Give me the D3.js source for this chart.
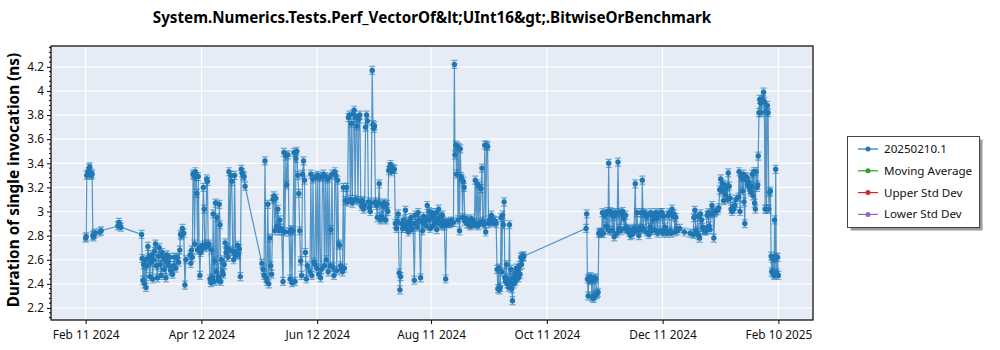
<!DOCTYPE html>
<html><head><meta charset="utf-8">
<script src="https://cdn.jsdelivr.net/npm/d3@7"></script>
<style>body{margin:0;background:#fff;} svg{display:block;} text{font-family:"Noto Sans",sans-serif;}</style>
</head><body><svg id="chart" width="1000" height="350"></svg>
<script>
const chartTitle = "System.Numerics.Tests.Perf_VectorOf&lt;UInt16&gt;.BitwiseOrBenchmark";
const yAxisLabel = "Duration of single invocation (ns)";
const startDate = "2024-02-11";
// day offsets from startDate
const days = [
0,0.3,0.6,1.0,1.4,1.8,2.2,2.6,3.0,3.4,3.8,4.1,4.4,5.0,7.5,8.2,
17.0,17.5,18.0,18.6,29.5,
29.8,30.2,30.6,31.0,31.4,31.8,32.3,32.8,33.3,33.8,34.3,34.8,35.3,35.8,36.3,36.8,37.3,37.8,38.3,38.8,39.3,39.8,40.3,40.8,41.3,41.8,42.3,42.8,43.3,43.8,44.3,44.8,45.3,45.8,46.3,46.8,47.5,48.3,49.0,49.6,
50.0,50.5,51.0,51.7,52.3,52.8,
55.0,55.4,55.8,56.2,56.6,57.0,57.4,57.8,58.2,58.6,59.0,59.4,59.8,60.2,60.6,61.0,61.5,62.0,62.4,62.8,63.3,63.8,64.2,64.6,65.0,
65.5,66.0,66.4,66.8,67.2,67.6,68.0,68.4,68.8,69.2,69.6,70.0,70.4,70.8,71.2,71.6,72.0,72.5,
73,73.5,74,74.5,75,75.5,76,76.5,77,77.5,78,78.5,79,79.5,80,80.5,81,81.5,82,82.5,83,83.5,84,
92.9,93.5,94.0,94.5,95.0,95.5,96.0,96.5,97.0,97.5,98.0,98.7,99.2,99.7,100.2,100.8,101.3,101.8,102.3,102.8,103.3,104.0,104.5,105.0,105.5,106.0,106.6,107.2,107.7,108.2,108.7,109.2,109.8,110.3,110.8,111.3,111.8,112.3,112.8,113.3,113.8,114.3,114.8,115.3,115.8,116.3,116.8,
118.2,118.7,119.2,119.8,120.3,120.8,121.3,121.8,122.3,122.8,123.3,123.8,124.3,124.8,125.3,125.8,126.3,126.8,127.3,127.8,128.3,128.8,129.3,129.8,130.3,130.8,131.3,131.8,132.3,132.8,133.3,133.8,134.3,134.8,135.3,135.8,136.3,136.8,
137.5,138.0,138.5,139.0,139.5,140.0,140.5,141.0,141.5,142.0,142.5,143.0,143.5,144.0,144.5,145.0,145.5,146.0,146.5,147.0,147.5,148.0,148.5,149.0,149.5,150.0,150.5,151.0,151.4,151.8,152.2,
152.7,153.2,153.7,154.2,154.7,155.2,155.7,156.2,156.7,157.2,157.7,158.2,158.7,159.2,159.7,160.2,160.7,161.2,161.7,162.2,162.7,
163.2,163.7,164.2,164.7,165.2,165.6,166.0,166.5,167.0,167.5,168.0,168.5,169.0,169.5,170.0,170.5,171.0,171.5,172.0,172.5,173.2,173.7,174.2,174.7,175.2,175.7,176.5,177.0,177.5,178.0,178.5,179.0,179.5,180.0,180.5,181.0,181.5,182.0,182.5,183.0,183.5,184.0,184.5,185.0,185.5,186.0,186.5,187.0,187.5,188.0,188.5,189.0,189.7,190.2,190.8,191.4,192.0,192.6,193.2,
193.8,194.3,194.6,195.0,195.4,195.8,196.2,196.6,197.0,197.4,197.8,198.2,198.6,199.0,199.4,199.8,200.3,200.8,201.3,201.8,202.3,202.8,203.3,203.8,204.3,204.8,
205.3,205.8,206.3,206.8,207.3,207.8,208.3,208.8,209.3,209.8,210.3,210.8,211.3,211.8,212.3,212.8,213.3,213.8,214.3,214.8,215.3,215.8,
216.3,216.8,217.2,217.6,218.0,218.5,218.9,219.3,219.7,220.1,220.5,220.9,221.3,221.7,222.1,222.5,222.9,223.3,223.7,224.1,224.5,224.9,225.3,225.7,226.1,226.5,226.9,227.3,227.7,228.1,228.5,228.9,229.3,229.7,230.1,230.5,230.9,
263.7,264.0,264.4,264.8,265.2,265.6,266.0,266.4,266.8,267.2,267.6,268.0,268.4,268.8,269.2,269.6,270.0,270.4,270.9,271.4,
271.8,272.3,272.8,273.3,273.8,274.3,274.8,275.2,275.6,276.0,276.5,277.0,277.5,278.0,278.5,279.0,279.5,280.0,280.5,281.0,281.5,282.0,282.5,283.0,283.5,284.0,284.5,285.0,285.5,286.0,286.5,287.0,287.5,288.0,288.5,289.0,289.6,290.0,290.5,291.0,291.5,292.0,292.5,293.0,293.3,293.8,294.3,294.8,295.3,295.8,296.3,296.8,297.3,297.8,298.3,298.8,299.3,299.8,
300.3,300.8,301.3,301.8,302.3,302.8,303.3,303.8,304.3,304.8,305.3,305.8,306.3,307.0,307.5,308.0,308.5,309.0,309.5,310.0,310.5,311.0,311.5,312.0,313.0,315.5,318.5,320.2,
320.5,321.0,321.5,322.0,322.5,323.0,323.5,324.0,324.5,325.0,325.5,326.0,326.5,327.0,327.5,328.0,328.5,329.0,329.5,330.0,330.5,331.0,331.5,332.0,
333.0,333.6,334.1,334.6,335.1,335.6,336.1,336.6,337.1,337.6,338.1,338.6,339.1,339.6,340.1,340.6,341.1,341.6,342.1,342.6,
344.0,344.3,344.8,345.3,345.7,346.1,346.5,346.9,347.3,347.7,348.1,348.5,348.9,349.3,349.7,350.1,350.5,350.9,351.3,351.7,352.1,352.5,352.9,353.3,353.7,354.1,
354.4,354.8,355.2,355.6,356.0,356.4,356.8,357.2,357.6,358.0,358.4,358.8,359.2,359.6,360.0,360.4,360.8,
361.2,361.5,361.8,362.1,362.4,362.7,363.0,363.3,363.6,363.9,364.2,364.6,365.0
];
// duration (ns), series "20250210.1"
const values = [
2.78,2.79,3.30,3.31,3.33,3.36,3.37,3.32,3.30,3.31,2.80,2.79,2.81,2.82,2.83,2.84,
2.88,2.91,2.89,2.87,2.81,
2.61,2.43,2.56,2.40,2.60,2.37,2.55,2.71,2.62,2.46,2.58,2.64,2.44,2.60,2.67,2.73,2.55,2.45,2.63,2.70,2.56,2.47,2.66,2.62,2.52,2.60,2.45,2.64,2.58,2.55,2.62,2.51,2.50,2.48,2.55,2.62,2.53,2.62,2.58,2.68,
2.81,2.80,2.86,2.82,2.39,2.60,
2.64,2.57,2.68,2.62,3.31,3.30,2.73,3.33,3.29,3.15,2.68,3.29,2.70,2.47,2.66,2.68,2.72,3.20,3.02,2.70,2.73,3.27,3.25,2.71,2.73,
2.44,2.41,2.68,2.45,2.98,2.42,2.59,3.07,2.50,2.95,2.43,2.46,3.06,2.89,2.42,2.60,2.50,2.48,
2.56,2.74,2.66,2.70,2.62,3.33,2.68,3.30,3.25,2.67,2.60,3.30,2.64,2.65,2.72,2.64,2.69,2.46,3.35,3.32,3.30,3.29,3.21,
2.57,2.52,2.47,3.42,2.45,2.42,3.06,2.40,2.78,2.55,2.48,3.10,3.13,2.84,3.11,2.88,3.02,2.84,2.93,2.86,2.84,2.42,3.49,2.83,3.46,3.22,3.47,2.83,2.44,2.85,2.41,2.84,3.49,2.42,3.44,3.50,3.30,3.15,2.84,2.59,2.47,3.31,3.42,3.26,2.66,2.44,2.55,
2.50,3.31,2.47,3.27,2.58,2.56,3.29,2.53,3.30,2.48,3.28,2.45,2.52,3.29,3.31,2.55,3.29,2.60,3.27,2.50,3.28,2.55,2.85,3.31,2.54,2.47,3.33,3.30,2.51,3.26,2.73,2.72,2.55,2.52,2.50,3.20,2.53,3.09,
3.20,3.08,3.78,3.80,3.10,3.73,3.07,3.81,3.84,3.10,3.78,3.71,3.09,3.77,3.80,3.08,3.04,3.09,3.02,3.05,3.70,3.80,3.75,3.08,3.03,3.00,3.07,4.17,3.72,3.69,3.71,
3.08,3.05,2.95,3.07,3.23,2.93,2.96,3.06,2.94,3.07,3.04,2.93,3.06,3.00,3.34,3.37,3.39,3.33,3.36,3.35,3.35,
2.90,2.86,2.92,2.98,2.49,2.35,2.46,2.90,2.86,2.93,2.88,3.01,2.86,2.91,2.83,2.92,2.88,2.95,2.85,2.90,2.43,2.97,2.90,2.87,2.99,2.93,2.45,2.92,2.84,2.96,2.90,2.94,2.88,3.05,2.93,3.00,2.86,2.95,2.99,2.88,2.96,2.91,2.99,2.85,2.93,3.02,2.90,2.96,2.88,2.97,2.92,2.88,2.44,2.91,2.90,2.91,2.90,2.92,2.91,
2.91,4.22,3.47,3.55,3.31,3.54,2.93,3.53,2.84,3.52,3.29,3.27,2.95,3.25,3.20,2.92,2.94,2.90,2.93,2.89,2.92,2.88,2.94,2.90,2.91,2.89,
3.26,2.90,3.23,2.88,3.21,2.91,3.19,3.36,2.92,2.89,3.55,2.83,3.55,3.54,2.90,2.93,2.92,2.97,2.91,2.93,2.92,2.92,
2.90,2.52,2.36,2.53,2.35,2.37,2.95,2.50,2.97,2.89,3.08,2.45,2.42,2.56,2.40,2.44,2.37,2.89,2.41,2.52,2.36,2.26,2.45,2.40,2.49,2.42,2.53,2.46,2.50,2.45,2.55,2.48,2.62,2.56,2.63,2.62,2.63,
2.86,2.98,2.44,2.30,2.45,2.43,2.46,2.44,2.29,2.43,2.28,2.30,2.45,2.44,2.31,2.32,2.33,2.82,2.83,2.82,
2.82,2.99,2.82,2.97,2.98,2.88,3.00,2.85,3.40,2.84,3.00,2.99,2.84,2.96,2.79,2.99,2.98,2.82,3.41,2.86,2.99,2.84,2.98,3.00,2.94,2.86,2.97,2.85,2.86,2.83,2.85,2.80,2.84,2.81,2.85,2.86,3.23,2.84,2.99,2.85,2.80,2.86,2.99,2.85,3.26,2.86,2.99,2.98,2.83,2.96,2.97,2.81,2.87,2.99,2.84,2.93,2.96,2.85,
2.99,2.94,2.82,2.98,2.97,2.84,2.99,2.99,2.82,2.96,2.87,2.84,2.82,2.97,2.99,2.84,2.82,3.02,2.96,2.98,2.83,2.95,2.86,2.84,2.86,2.83,2.82,2.81,
2.95,3.01,2.84,2.82,2.96,2.80,2.78,2.98,2.93,2.87,2.85,2.84,2.85,2.84,2.97,2.99,2.88,2.85,2.98,3.05,2.99,2.78,2.99,3.00,
3.01,3.03,3.18,3.27,3.17,3.23,3.09,3.22,3.14,3.20,3.10,3.32,3.21,3.11,3.02,3.00,3.04,3.02,3.05,3.10,
3.12,3.33,3.00,3.29,3.28,3.17,3.31,3.08,2.90,3.29,3.26,3.28,3.22,3.25,3.20,3.18,3.16,3.21,3.31,3.13,3.33,3.07,3.02,3.33,3.20,3.22,
3.46,3.82,3.93,3.90,3.82,3.92,3.93,3.99,3.91,3.02,3.83,3.02,3.88,3.82,3.02,3.16,3.17,
2.63,2.50,2.61,2.49,2.61,2.47,2.93,2.48,3.35,2.62,2.49,2.62,2.47
];
const xTickDates = ["2024-02-11","2024-04-12","2024-06-12","2024-08-11","2024-10-11","2024-12-11","2025-02-10"];
const xTickLabels = ["Feb 11 2024","Apr 12 2024","Jun 12 2024","Aug 11 2024","Oct 11 2024","Dec 11 2024","Feb 10 2025"];
const yTickValues = [2.2,2.4,2.6,2.8,3.0,3.2,3.4,3.6,3.8,4.0,4.2];
const yTickLabels = ["2.2","2.4","2.6","2.8","3","3.2","3.4","3.6","3.8","4","4.2"];
const yDomain = [2.1, 4.373];
const legendLabels = ["20250210.1","Moving Average","Upper Std Dev","Lower Std Dev"];
const legendColors = ["#1f77b4","#2ca02c","#d62728","#9467bd"];

const svg = d3.select("#chart");
const M = {left:51, right:813, top:46, bottom:320};
const parse = d3.utcParse("%Y-%m-%d");
const t0 = parse(startDate).getTime();
const n = Math.min(days.length, values.length);
const data = d3.range(n).map(i => ({date: new Date(t0 + days[i]*86400000), v: values[i]}));
const ext = d3.extent(data, d => d.date.getTime());
const pad = (ext[1]-ext[0])*0.05;
const x = d3.scaleUtc().domain([new Date(ext[0]-pad), new Date(ext[1]+pad)]).range([M.left, M.right]);
const y = d3.scaleLinear().domain(yDomain).range([M.bottom, M.top]);

svg.append("rect").attr("x",M.left).attr("y",M.top).attr("width",M.right-M.left).attr("height",M.bottom-M.top).attr("fill","#e5ecf6");

const xt = xTickDates.map(s => parse(s));
const g = svg.append("g");
g.selectAll(".vg").data(xt).join("line").attr("x1",d=>x(d)).attr("x2",d=>x(d)).attr("y1",M.top).attr("y2",M.bottom).attr("stroke","#fff").attr("stroke-width",1.2);
g.selectAll(".hg").data(yTickValues).join("line").attr("x1",M.left).attr("x2",M.right).attr("y1",d=>y(d)).attr("y2",d=>y(d)).attr("stroke","#fff").attr("stroke-width",1.2);

svg.append("clipPath").attr("id","cp").append("rect").attr("x",M.left).attr("y",M.top).attr("width",M.right-M.left).attr("height",M.bottom-M.top);
const plot = svg.append("g").attr("clip-path","url(#cp)");
const line = d3.line().x(d=>x(d.date)).y(d=>y(d.v));
plot.append("path").datum(data).attr("d",line).attr("fill","none").attr("stroke","#1f77b4").attr("stroke-width",1.2).attr("stroke-opacity",0.75);
const mk = plot.selectAll(".mk").data(data).join("g").attr("transform",d=>`translate(${x(d.date)},${y(d.v)})`);
mk.append("path").attr("d","M-3,-4H3M0,-4V4M-3,4H3").attr("stroke","#1f77b4").attr("stroke-opacity",0.6).attr("stroke-width",1.2).attr("fill","none");
mk.append("circle").attr("r",2.7).attr("fill","#1f77b4");

// axes
const xAxis = d3.axisBottom(x).tickValues(xt).tickFormat((d,i)=>xTickLabels[i]).tickSize(4).tickSizeOuter(0);
const xg = svg.append("g").attr("transform",`translate(0,${M.bottom})`).call(xAxis);
xg.select(".domain").remove();
xg.selectAll("text").attr("font-size",11.8).attr("fill","#111").attr("dy","1.05em").style("font-family","'Noto Sans',sans-serif");
const yAxis = d3.axisLeft(y).tickValues(yTickValues).tickFormat((d,i)=>yTickLabels[i]).tickSize(4).tickSizeOuter(0);
const yg = svg.append("g").attr("transform",`translate(${M.left},0)`).call(yAxis);
yg.select(".domain").remove();
yg.selectAll("text").attr("font-size",11.8).attr("fill","#111").style("font-family","'Noto Sans',sans-serif");
const minor = d3.range(2.12, 4.37, 0.04).filter(v => !yTickValues.some(t => Math.abs(t-v)<1e-6));
svg.append("g").selectAll("line").data(minor).join("line").attr("x1",M.left-2).attr("x2",M.left).attr("y1",d=>y(d)).attr("y2",d=>y(d)).attr("stroke","#000");

svg.append("rect").attr("x",M.left).attr("y",M.top).attr("width",M.right-M.left).attr("height",M.bottom-M.top).attr("fill","none").attr("stroke","#000").attr("stroke-width",1.2);

svg.append("text").attr("x",(M.left+M.right)/2).attr("y",23).attr("text-anchor","middle").attr("font-weight","bold").attr("font-size",15.2).attr("fill","#000").text(chartTitle);
svg.append("text").attr("transform",`translate(19,${(M.top+M.bottom)/2-3}) rotate(-90)`).attr("text-anchor","middle").attr("font-weight","bold").attr("font-size",15.4).attr("fill","#000").text(yAxisLabel);

// legend
const L = {x:847.5, y:136.5, w:132, h:91};
svg.append("rect").attr("x",L.x+3).attr("y",L.y+3).attr("width",L.w).attr("height",L.h).attr("fill","#999");
svg.append("rect").attr("x",L.x).attr("y",L.y).attr("width",L.w).attr("height",L.h).attr("fill","#fff").attr("stroke","#444");
const li = svg.append("g").selectAll("g").data(legendLabels).join("g").attr("transform",(d,i)=>`translate(0,${L.y+12.5+i*21.8})`);
li.append("line").attr("x1",858).attr("x2",878).attr("stroke",(d,i)=>legendColors[i]).attr("stroke-width",1.2);
li.append("circle").attr("cx",868).attr("r",2.5).attr("fill",(d,i)=>legendColors[i]);
li.append("text").attr("x",884).attr("dy","0.35em").attr("font-size",11.6).attr("fill","#111").text(d=>d);
</script></body></html>
